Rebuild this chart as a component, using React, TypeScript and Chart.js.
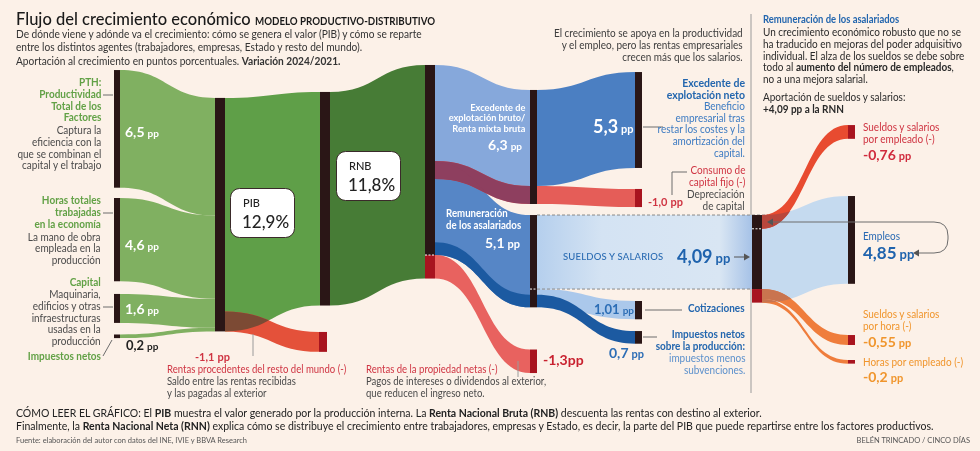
import React, { useEffect, useRef } from 'react';
import { Chart, registerables } from 'chart.js';

Chart.register(...registerables);

const W = 980;
const H = 451;
const PX_PER_PP = 18.1;
const FONT = 'Lato, "Open Sans", sans-serif';
const BG = '#fcf1e8';

// ---------------- DATA (puntos porcentuales, variación 2024/2021) ----------------
const factorNames = ['PTF', 'Horas totales trabajadas', 'Capital', 'Impuestos netos'];
const factorValues = [6.5, 4.6, 1.6, 0.2];
const aggregateNames = ['PIB', 'RNB'];
const aggregateValues = [12.9, 11.8];
const externalNames = ['Rentas procedentes del resto del mundo', 'Rentas de la propiedad netas'];
const externalValues = [-1.1, -1.3];
const grossNames = ['Excedente de explotación bruto', 'Remuneración de los asalariados'];
const grossValues = [6.3, 5.1];
const surplusNames = ['Excedente de explotación neto', 'Consumo de capital fijo'];
const surplusValues = [5.3, -1.0];
const wageNames = ['Sueldos y salarios', 'Cotizaciones', 'Impuestos netos sobre la producción'];
const wageValues = [4.09, 1.01, 0.7];
const wageDecompNames = ['Empleos', 'Sueldos y salarios por empleado', 'Sueldos y salarios por hora', 'Horas por empleado'];
const wageDecompValues = [4.85, -0.76, -0.55, -0.2];

// ---------------- LAYOUT (x columns in x-scale units, node tops in pp units) ----------------
const COL = {
  f: [114, 120], pib: [215, 225], rnb: [320, 330], ext1: [319, 327], c4: [425, 435],
  c5: [530, 537], c6: [635, 642], c7: [752, 762], c8: [848, 855],
};
const TOP = {
  factors: [3.87, 10.94, 16.24, 18.48], pib: 5.41, rnb: 5.08, ext1: 18.34, c4: 3.59,
  exB: 4.97, rem: 11.88, ext2: 19.31, exN: 3.98, cons: 10.44, cot: 16.63, impP: 18.29,
  c7: 11.88, sxe: 6.91, emp: 10.83, xh: 18.51, hxe: 19.89,
};

const C = {
  greenL: '#80b061', greenM: '#5f9f48', greenD: '#477c36', node: '#2a1616', tip: '#a8141f',
  exB: '#86a8db', rem: '#5686c6', exN: '#4b7fc2', dark: '#1c5aa1', cot: '#abc8eb', emp: '#c5daef',
  ext1: '#e4513a', brown: '#7c4a34', ext2: '#e8625f', cons: '#e55d58', maroon: '#8e3f5f',
  sxe: '#e84b30', sxeOv: '#b9473c', orange: '#ef7d3c', orangeOv: '#c9744f',
};
const T = {
  txt: '#2b2b2b', gray: '#4a4a4a', green: '#62a146', blue: '#2366ae', blue2: '#3d7bc2', blue3: '#5b90cc',
  red: '#cf3442', orange: '#f0952c',
};

const fmt = (v: number) => (Number.isInteger(v) ? v.toFixed(1) : String(v)).replace('.', ',');

function drawChart(chart: any) {
  const ctx: CanvasRenderingContext2D = chart.ctx;
  const xs = chart.scales.x;
  const ys = chart.scales.y;
  const X = (v: number) => xs.getPixelForValue(v);
  const Y = (v: number) => ys.getPixelForValue(v);

  const flow = (x0: number, s0: number, h0: number, x1: number, s1: number, h1: number) => {
    const px0 = X(x0), px1 = X(x1);
    const t0 = Y(s0), b0 = Y(s0 + Math.abs(h0)), t1 = Y(s1), b1 = Y(s1 + Math.abs(h1));
    const xm0 = px0 + (px1 - px0) * 0.5, xm1 = px1 - (px1 - px0) * 0.5;
    const p = new Path2D();
    p.moveTo(px0, t0);
    p.bezierCurveTo(xm0, t0, xm1, t1, px1, t1);
    p.lineTo(px1, b1);
    p.bezierCurveTo(xm1, b1, xm0, b0, px0, b0);
    p.closePath();
    return p;
  };
  const fill = (p: Path2D, c: string | CanvasGradient) => { ctx.fillStyle = c; ctx.fill(p); };
  const overlap = (p: Path2D, under: Path2D[], c: string) => {
    under.forEach((u) => { ctx.save(); ctx.clip(u); ctx.fillStyle = c; ctx.fill(p); ctx.restore(); });
  };
  const node = (col: number[], top: number, v: number, c: string) => {
    ctx.fillStyle = c;
    const y0 = Y(top), y1 = Y(top + Math.abs(v));
    ctx.fillRect(X(col[0]), y0, X(col[1]) - X(col[0]), y1 - y0);
  };
  const seg = (pts: number[][], color = '#6d6d6d', dash: number[] = [], lw = 1) => {
    ctx.save(); ctx.strokeStyle = color; ctx.lineWidth = lw; ctx.setLineDash(dash);
    ctx.beginPath(); pts.forEach((p, i) => (i ? ctx.lineTo(p[0], p[1]) : ctx.moveTo(p[0], p[1]))); ctx.stroke(); ctx.restore();
  };
  const whiteDash = (col: number[], v: number) => {
    const y = Y(v);
    seg([[X(col[0]), y], [X(col[1]), y]], '#ffffff', [2, 1.5], 1);
  };

  const [vPTF, vHoras, vCap, vImp] = factorValues;
  const [vPIB, vRNB] = aggregateValues;
  const [vExt1, vExt2] = externalValues.map(Math.abs);
  const [vExB, vRem] = grossValues;
  const [vExN, vCons] = surplusValues.map(Math.abs);
  const [vSue, vCot, vImpP] = wageValues;
  const [vEmp, vSxe, vXh, vHxe] = wageDecompValues.map(Math.abs);
  const c4dark = vRNB - vExt2;

  ctx.save();
  seg([[751, 14], [751, 393]], '#9a9a9a');

  // factors -> PIB
  let off = 0;
  factorValues.forEach((v, i) => {
    fill(flow(COL.f[1], TOP.factors[i], v, COL.pib[0], TOP.pib + off, v), C.greenL);
    off += v;
  });
  // PIB -> RNB
  const pibRnb = flow(COL.pib[1], TOP.pib, vPIB, COL.rnb[0], TOP.rnb, vRNB);
  fill(pibRnb, C.greenM);
  // RNB -> distribution
  fill(flow(COL.rnb[1], TOP.rnb, vRNB, COL.c4[0], TOP.c4, vRNB), C.greenD);
  // Rentas resto del mundo
  const ext1 = flow(COL.pib[1], TOP.pib + vPIB - vExt1, vExt1, COL.ext1[0], TOP.ext1, vExt1);
  fill(ext1, C.ext1);
  overlap(ext1, [pibRnb], C.brown);

  // distribution -> gross
  const exB = flow(COL.c4[1], TOP.c4, vExB, COL.c5[0], TOP.exB, vExB);
  fill(exB, C.exB);
  const rem = flow(COL.c4[1], TOP.c4 + c4dark - vRem, vRem, COL.c5[0], TOP.rem, vRem);
  fill(rem, C.rem);
  fill(flow(COL.c4[1], TOP.c4 + c4dark - vImpP, vImpP, COL.c5[0], TOP.rem + vRem - vImpP, vImpP), C.dark);

  // gross -> net
  fill(flow(COL.c5[1], TOP.exB, vExN, COL.c6[0], TOP.exN, vExN), C.exN);
  fill(flow(COL.c5[1], TOP.rem + vSue, vCot, COL.c6[0], TOP.cot, vCot), C.cot);
  fill(flow(COL.c5[1], TOP.rem + vRem - vImpP, vImpP, COL.c6[0], TOP.impP, vImpP), C.dark);

  // sueldos y salarios band
  const sx0 = X(COL.c5[1]), sx1 = X(COL.c7[0]);
  const g = ctx.createLinearGradient(sx0, 0, sx1, 0);
  g.addColorStop(0, '#b5cfed');
  g.addColorStop(0.3, '#d4e3f3');
  g.addColorStop(0.85, '#d9e6f3');
  g.addColorStop(1, '#a6c2e7');
  fill(flow(COL.c5[1], TOP.rem, vSue, COL.c7[0], TOP.c7, vSue), g);
  seg([[sx0, Y(TOP.rem)], [768, Y(TOP.rem)]], '#8a8a8a', [3, 2]);
  seg([[sx0, Y(TOP.rem + vSue)], [768, Y(TOP.rem + vSue)]], '#8a8a8a', [3, 2]);

  // consumo de capital fijo
  const cons1 = flow(COL.c4[1], TOP.c4 + vExB - vCons, vCons, COL.c5[0], TOP.exB + vExB - vCons, vCons);
  fill(cons1, C.cons);
  overlap(cons1, [exB, rem], C.maroon);
  fill(flow(COL.c5[1], TOP.exB + vExB - vCons, vCons, COL.c6[0], TOP.cons, vCons), C.cons);
  // rentas de la propiedad
  const ext2 = flow(COL.c4[1], TOP.c4 + c4dark, vExt2, COL.c5[0], TOP.ext2, vExt2);
  fill(ext2, C.ext2);
  overlap(ext2, [rem], C.maroon);

  // wages decomposition
  const emp = flow(COL.c7[1], TOP.c7, vEmp, COL.c8[0], TOP.emp, vEmp);
  fill(emp, C.emp);
  const sxe = flow(COL.c7[1], TOP.c7, vSxe, COL.c8[0], TOP.sxe, vSxe);
  fill(sxe, C.sxe);
  overlap(sxe, [emp], C.sxeOv);
  const xh = flow(COL.c7[1], TOP.c7 + vSue, vXh, COL.c8[0], TOP.xh, vXh);
  fill(xh, C.orange);
  overlap(xh, [emp], C.orangeOv);
  const hxe = flow(COL.c7[1], TOP.c7 + vSue + vXh, vHxe, COL.c8[0], TOP.hxe, vHxe);
  fill(hxe, C.orange);
  overlap(hxe, [emp], C.orangeOv);

  // nodes
  factorValues.forEach((v, i) => node(COL.f, TOP.factors[i], v, C.node));
  node(COL.pib, TOP.pib, vPIB, C.node);
  node(COL.rnb, TOP.rnb, vRNB, C.node);
  node(COL.ext1, TOP.ext1, vExt1, C.tip);
  node(COL.c4, TOP.c4, c4dark, C.node);
  node(COL.c4, TOP.c4 + c4dark, vExt2, C.tip);
  whiteDash(COL.c4, TOP.c4 + c4dark);
  node(COL.c5, TOP.exB, vExB, C.node);
  node(COL.c5, TOP.rem, vRem, C.node);
  whiteDash(COL.c5, TOP.rem + vSue);
  node(COL.c5, TOP.ext2, vExt2, C.tip);
  node(COL.c6, TOP.exN, vExN, C.node);
  node(COL.c6, TOP.cons, vCons, C.tip);
  node(COL.c6, TOP.cot, vCot, C.node);
  node(COL.c6, TOP.impP, vImpP, C.node);
  node(COL.c7, TOP.c7, vSue, C.node);
  whiteDash(COL.c7, TOP.c7 + vSxe);
  node(COL.c7, TOP.c7 + vSue, vXh + vHxe, C.tip);
  node(COL.c8, TOP.sxe, vSxe, C.tip);
  node(COL.c8, TOP.emp, vEmp, C.node);
  node(COL.c8, TOP.xh, vXh, C.tip);
  node(COL.c8, TOP.hxe, vHxe, C.tip);

  // connectors
  seg([[103, 95], [113, 95]]);
  seg([[103, 213], [113, 213]]);
  seg([[103, 307], [113, 307]]);
  seg([[103, 356], [112, 340]]);
  seg([[253, 334], [253, 356]], '#9a9a9a');
  seg([[518, 361], [518, 377]], '#9a9a9a');
  seg([[643, 127], [663, 127]]);
  seg([[672, 195], [672, 172], [687, 172]]);
  seg([[645, 310], [682, 310]]);
  seg([[643, 337], [657, 337]]);
  const head = (x: number, y: number, dir: number) => {
    ctx.fillStyle = '#555';
    ctx.beginPath(); ctx.moveTo(x, y); ctx.lineTo(x - dir * 6, y - 3.5); ctx.lineTo(x - dir * 6, y + 3.5); ctx.closePath(); ctx.fill();
  };
  seg([[734, 257], [746, 257]], '#555');
  head(750, 257, 1);
  ctx.save();
  ctx.strokeStyle = '#6d6d6d'; ctx.lineWidth = 1; ctx.beginPath();
  ctx.moveTo(772, 222); ctx.lineTo(934, 222); ctx.quadraticCurveTo(948, 222, 948, 236);
  ctx.lineTo(948, 239); ctx.quadraticCurveTo(948, 253, 934, 253); ctx.lineTo(918, 253); ctx.stroke();
  ctx.restore();
  head(767, 222, -1);
  head(913, 253, -1);

  // value labels
  const val = (v: number, x: number, y: number, color: string, size: number, usize: number, align: 'left' | 'right' = 'left', gap = 3) => {
    const num = fmt(v);
    const f1 = `700 ${size}px ${FONT}`;
    const f2 = `700 ${usize}px ${FONT}`;
    ctx.save();
    ctx.fillStyle = color; ctx.textBaseline = 'alphabetic';
    ctx.font = f1; const w1 = ctx.measureText(num).width;
    ctx.font = f2; const w2 = ctx.measureText('pp').width;
    const x0 = align === 'right' ? x - (w1 + gap + w2) : x;
    const base = y + size * 0.36;
    ctx.font = f1; ctx.fillText(num, x0, base);
    ctx.font = f2; ctx.fillText('pp', x0 + w1 + gap, base);
    ctx.restore();
  };
  val(vPTF, 125, 132, '#ffffff', 14, 10);
  val(vHoras, 125, 245, '#ffffff', 14, 10);
  val(vCap, 125, 309, '#ffffff', 14, 10);
  val(vImp, 126, 345, '#222222', 13, 10);
  val(externalValues[0], 195, 357, T.red, 11, 11);
  val(externalValues[1], 543, 360, '#c8202e', 14, 14, 'left', 0);
  val(vExB, 522, 145, '#ffffff', 14, 10, 'right');
  val(vRem, 520, 243, '#ffffff', 14, 11, 'right');
  val(vExN, 593, 127, '#ffffff', 18, 11);
  val(surplusValues[1], 648, 202, T.red, 11, 11);
  val(vSue, 677, 257, '#1f63ad', 18, 13);
  val(vCot, 594, 309, '#2c6db5', 13, 10);
  val(vImpP, 609, 353, '#2c6db5', 14, 11);
  val(wageDecompValues[1], 863, 155, '#d02a3c', 14, 11);
  val(vEmp, 863, 253, '#1f63ad', 17, 13);
  val(wageDecompValues[2], 863, 342, T.orange, 14, 11);
  val(wageDecompValues[3], 863, 377, T.orange, 14, 11);

  // PIB / RNB boxes
  const box = (name: string, v: number, x: number, y: number) => {
    ctx.save();
    ctx.fillStyle = '#ffffff'; ctx.strokeStyle = '#3a2a2a'; ctx.lineWidth = 1;
    ctx.beginPath(); (ctx as any).roundRect(x + 0.5, y + 0.5, 64, 49, 9); ctx.fill(); ctx.stroke();
    ctx.fillStyle = '#222'; ctx.textBaseline = 'middle';
    ctx.font = `500 11px ${FONT}`; ctx.fillText(name, x + 13, y + 15);
    ctx.font = `500 17px ${FONT}`; ctx.fillText(fmt(v) + '%', x + 12, y + 35);
    ctx.restore();
  };
  box(aggregateNames[0], vPIB, 230, 188);
  box(aggregateNames[1], vRNB, 336, 151);
  ctx.restore();
}

const sankeyPlugin = {
  id: 'sankeyFlows',
  beforeDraw(chart: any) {
    const { ctx, width, height } = chart;
    ctx.save(); ctx.fillStyle = BG; ctx.fillRect(0, 0, width, height); ctx.restore();
  },
  afterDraw(chart: any) { drawChart(chart); },
};

type LProps = {
  x: number; y: number; lines: React.ReactNode[]; align?: 'left' | 'right'; size?: number; lh?: number;
  color?: string; weight?: number; ls?: number; sx?: number;
};
const SX = 0.95;
function L({ x, y, lines, align = 'left', size = 10.5, lh = 11.8, color = T.txt, weight = 400, ls, sx = SX }: LProps) {
  const style: React.CSSProperties = {
    position: 'absolute', top: y - lh / 2, fontSize: size, lineHeight: `${lh}px`, color, fontWeight: weight,
    whiteSpace: 'nowrap', textAlign: align, letterSpacing: ls,
    transform: sx !== 1 ? `scaleX(${sx})` : undefined, transformOrigin: align === 'right' ? 'right top' : 'left top',
  };
  if (align === 'right') style.right = W - x; else style.left = x;
  return <div style={style}>{lines.map((l, i) => <div key={i}>{l}</div>)}</div>;
}

export default function App() {
  const ref = useRef<HTMLCanvasElement>(null);
  useEffect(() => {
    const chart = new Chart(ref.current as HTMLCanvasElement, {
      type: 'scatter',
      data: { datasets: [] },
      options: {
        responsive: false,
        animation: false,
        events: [],
        layout: { padding: 0 },
        plugins: { legend: { display: false }, tooltip: { enabled: false }, title: { display: false } },
        scales: {
          x: { type: 'linear', min: 0, max: W, bounds: 'data', display: false },
          y: { type: 'linear', min: 0, max: H / PX_PER_PP, bounds: 'data', reverse: true, display: false },
        },
      },
      plugins: [sankeyPlugin],
    } as any);
    return () => chart.destroy();
  }, []);

  return (
    <div style={{ position: 'absolute', left: 0, top: 0, width: W, height: H, background: BG, overflow: 'hidden', fontFamily: FONT }}>
      <canvas ref={ref} width={W} height={H} style={{ position: 'absolute', left: 0, top: 0 }} />
      {/* title */}
      <div style={{ position: 'absolute', left: 16, top: 8, fontSize: 16.5, lineHeight: '22px', fontWeight: 500, color: '#1a1a1a', whiteSpace: 'nowrap' }}>
        Flujo del crecimiento económico{' '}
        <span style={{ display: 'inline-block', fontSize: 10.8, fontWeight: 700, transform: 'scaleX(0.9)', transformOrigin: 'left center' }}>MODELO PRODUCTIVO-DISTRIBUTIVO</span>
      </div>
      <L x={16} y={33.5} lh={13.4} size={10.7} color="#333" lines={[
        'De dónde viene y adónde va el crecimiento: cómo se genera el valor (PIB) y cómo se reparte',
        'entre los distintos agentes (trabajadores, empresas, Estado y resto del mundo).',
        <>Aportación al crecimiento en puntos porcentuales. <b>Variación 2024/2021.</b></>,
      ]} />

      {/* factor labels */}
      <L x={101} y={83} align="right" color={T.green} weight={700} lines={['PTH:', 'Productividad', 'Total de los', 'Factores']} />
      <L x={101} y={131} align="right" color={T.gray} lines={['Captura la', 'eficiencia con la', 'que se combinan el', 'capital y el trabajo']} />
      <L x={101} y={201} align="right" color={T.green} weight={700} lines={['Horas totales', 'trabajadas', 'en la economía']} />
      <L x={101} y={237.5} align="right" color={T.gray} lines={['La mano de obra', 'empleada en la', 'producción']} />
      <L x={101} y={283} align="right" color={T.green} weight={700} lines={['Capital']} />
      <L x={101} y={295} align="right" color={T.gray} lines={['Maquinaria,', 'edificios y otras', 'infraestructuras', 'usadas en la', 'producción']} />
      <L x={101} y={357} align="right" color={T.green} weight={700} lines={['Impuestos netos']} />

      {/* external rents */}
      <L x={167} y={370} color={T.red} sx={0.91} lines={['Rentas procedentes del resto del mundo (-)']} />
      <L x={167} y={382} color={T.gray} sx={0.91} lines={['Saldo entre las rentas recibidas', 'y las pagadas al exterior']} />
      <L x={366} y={370} color={T.red} sx={0.91} lines={['Rentas de la propiedad netas (-)']} />
      <L x={366} y={382} color={T.gray} sx={0.91} lines={['Pagos de intereses o dividendos al exterior,', 'que reducen el ingreso neto.']} />

      {/* in-flow labels */}
      <L x={525} y={107} align="right" color="#ffffff" weight={700} size={10} lh={10.8} sx={0.92} lines={['Excedente de', 'explotación bruto/', 'Renta mixta bruta']} />
      <L x={446} y={213} color="#ffffff" weight={700} size={10.5} lh={12.5} sx={0.92} lines={['Remuneración', 'de los asalariados']} />

      {/* middle right texts */}
      <L x={743} y={34} align="right" color="#3d3d3d" lines={['El crecimiento se apoya en la productividad', 'y el empleo, pero las rentas empresariales', 'crecen más que los salarios.']} />
      <L x={745} y={83} align="right" color={T.blue} weight={700} lh={12} sx={1} lines={['Excedente de', 'explotación neto']} />
      <L x={745} y={107} align="right" color={T.blue2} lh={11.6} lines={['Beneficio', 'empresarial tras', 'restar los costes y la', 'amortización del', 'capital.']} />
      <L x={745} y={171} align="right" color={T.red} lines={['Consumo de', 'capital fijo (-)']} />
      <L x={745} y={195} align="right" color={T.gray} lines={['Depreciación', 'de capital']} />
      <L x={563} y={257} color="#2b6cb3" weight={500} size={10} ls={0.2} lines={['SUELDOS Y SALARIOS']} />
      <L x={745} y={309} align="right" color={T.blue} weight={700} lines={['Cotizaciones']} />
      <L x={745} y={335} align="right" color={T.blue} weight={700} lines={['Impuestos netos', 'sobre la producción:']} />
      <L x={745} y={359} align="right" color={T.blue3} lines={['impuestos menos', 'subvenciones.']} />

      {/* right column */}
      <L x={763} y={20} color={T.blue} weight={700} size={10.5} sx={0.9} lines={['Remuneración de los asalariados']} />
      <L x={763} y={33} color="#2a2a2a" size={10.5} lh={11.75} lines={[
        'Un crecimiento económico robusto que no se',
        'ha traducido en mejoras del poder adquisitivo',
        'individual. El alza de los sueldos se debe sobre',
        <>todo al <b>aumento del número de empleados</b>,</>,
        'no a una mejora salarial.',
      ]} />
      <L x={763} y={97} color="#2a2a2a" size={10.5} lh={12} lines={['Aportación de sueldos y salarios:', <b>+4,09 pp a la RNN</b>]} />
      <L x={863} y={128} color={T.red} size={10.5} lines={['Sueldos y salarios', 'por empleado (-)']} />
      <L x={863} y={237} color="#2a6ab3" size={10.5} lines={['Empleos']} />
      <L x={863} y={315} color={T.orange} size={10.5} lines={['Sueldos y salarios', 'por hora (-)']} />
      <L x={863} y={363} color={T.orange} size={10.5} lines={['Horas por empleado (-)']} />

      {/* bottom */}
      <L x={16} y={413} color="#222" lh={13} sx={1} lines={[
        <>CÓMO LEER EL GRÁFICO: El <b>PIB</b> muestra el valor generado por la producción interna. La <b>Renta Nacional Bruta (RNB)</b> descuenta las rentas con destino al exterior.</>,
        <>Finalmente, la <b>Renta Nacional Neta (RNN)</b> explica cómo se distribuye el crecimiento entre trabajadores, empresas y Estado, es decir, la parte del PIB que puede repartirse entre los factores productivos.</>,
      ]} />
      <L x={16} y={441} color="#555" size={7.5} lh={10} sx={1} lines={['Fuente: elaboración del autor con datos del INE, IVIE y BBVA Research']} />
      <L x={970} y={441} align="right" color="#555" size={7.5} lh={10} sx={1} lines={['BELÉN TRINCADO / CINCO DÍAS']} />
    </div>
  );
}
